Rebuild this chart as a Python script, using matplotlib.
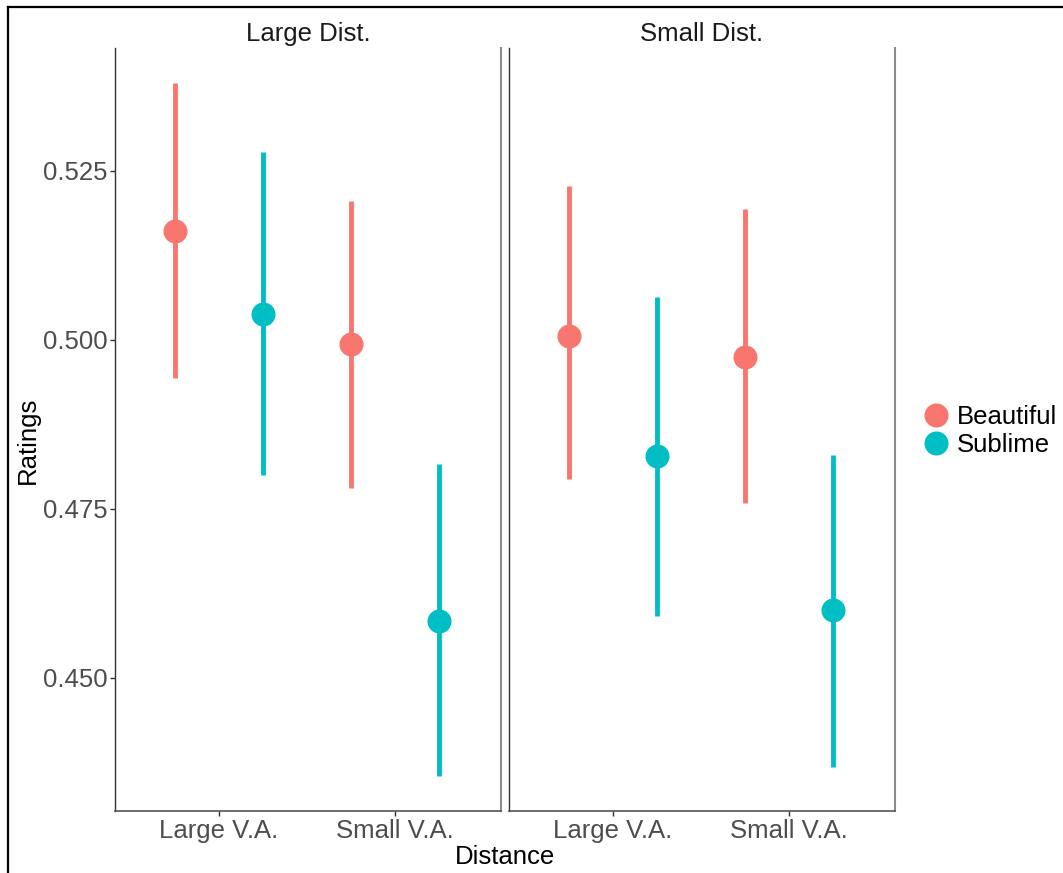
import matplotlib
matplotlib.use("Agg")
import matplotlib.pyplot as plt
from matplotlib.lines import Line2D
import numpy as np

plt.rcParams['font.family'] = ['Liberation Sans', 'DejaVu Sans']

panels = ["Large Dist.", "Small Dist."]
categories = ["Large V.A.", "Small V.A."]
groups = ["Beautiful", "Sublime"]
colors = {"Beautiful": "#F8766D", "Sublime": "#00BFC4"}

# means[panel][group] over categories
means = {
    "Large Dist.": {"Beautiful": [0.5161, 0.4994], "Sublime": [0.5038, 0.4584]},
    "Small Dist.": {"Beautiful": [0.5006, 0.4975], "Sublime": [0.4828, 0.4601]},
}
lower = {
    "Large Dist.": {"Beautiful": [0.4944, 0.4781], "Sublime": [0.4800, 0.4355]},
    "Small Dist.": {"Beautiful": [0.4794, 0.4759], "Sublime": [0.4592, 0.4368]},
}
upper = {
    "Large Dist.": {"Beautiful": [0.5380, 0.5206], "Sublime": [0.5278, 0.4817]},
    "Small Dist.": {"Beautiful": [0.5228, 0.5194], "Sublime": [0.5064, 0.4830]},
}
yticks = [0.450, 0.475, 0.500, 0.525]

W, H = 1063, 873
fig = plt.figure(figsize=(W / 100, H / 100), dpi=100)

FS = 18.5
dodge = {"Beautiful": -0.25, "Sublime": 0.25}
axes_px = [(115, 48, 501, 811), (509, 48, 895, 811)]

for i, (panel, (x0, y0, x1, y1)) in enumerate(zip(panels, axes_px)):
    ax = fig.add_axes([x0 / W, 1 - y1 / H, (x1 - x0) / W, (y1 - y0) / H])
    xs = np.arange(1, len(categories) + 1)
    for g in groups:
        m = np.array(means[panel][g])
        lo = np.array(lower[panel][g])
        hi = np.array(upper[panel][g])
        xx = xs + dodge[g]
        ax.vlines(xx, lo, hi, color=colors[g], lw=3.5, zorder=2)
        ax.plot(xx, m, 'o', color=colors[g], ms=17.3, mec='none', zorder=3)
    ax.set_xlim(0.41, 2.6)
    ax.set_ylim(0.4303, 0.5432)
    ax.set_xticks(xs)
    ax.set_xticklabels(categories, fontsize=FS, color="#4D4D4D")
    ax.set_yticks(yticks)
    if i == 0:
        ax.set_yticklabels([f"{v:.3f}" for v in yticks], fontsize=FS, color="#4D4D4D")
        ax.tick_params(axis='y', length=3.5, width=1, color="#333333", pad=2)
    else:
        ax.tick_params(axis='y', length=0, labelleft=False)
    ax.tick_params(axis='x', length=3.5, width=1, color="#333333", pad=2)
    ax.spines['top'].set_visible(False)
    ax.spines['left'].set_color("#333333")
    ax.spines['left'].set_linewidth(1.0)
    ax.spines['bottom'].set_color("#555555")
    ax.spines['bottom'].set_linewidth(1.2)
    ax.spines['right'].set_color("#8C8C8C")
    ax.spines['right'].set_linewidth(1.5)
    ax.set_title(panel, fontsize=FS, color="#1A1A1A", pad=5)

fig.text(28 / W, 1 - 440 / H, "Ratings", rotation=90, ha='center', va='center', fontsize=FS, color="black")
fig.text(505 / W, 1 - 857 / H, "Distance", ha='center', va='center', fontsize=FS, color="black")

handles = [Line2D([0], [0], marker='o', ls='none', color=colors[g], ms=17.3, mec='none') for g in groups]
fig.legend(handles, groups, loc='center left', bbox_to_anchor=(921 / W, 1 - 431 / H),
           frameon=False, fontsize=FS, handletextpad=0.2, labelspacing=0.15,
           handlelength=1.2, borderaxespad=0, borderpad=0)

# outer frame
fig.add_artist(Line2D([8 / W, 8 / W], [0, 1 - 7 / H], color='black', lw=1.6, transform=fig.transFigure))
fig.add_artist(Line2D([8 / W, 1], [1 - 7 / H, 1 - 7 / H], color='black', lw=1.6, transform=fig.transFigure))

fig.savefig("out.png", dpi=100, facecolor='white')
